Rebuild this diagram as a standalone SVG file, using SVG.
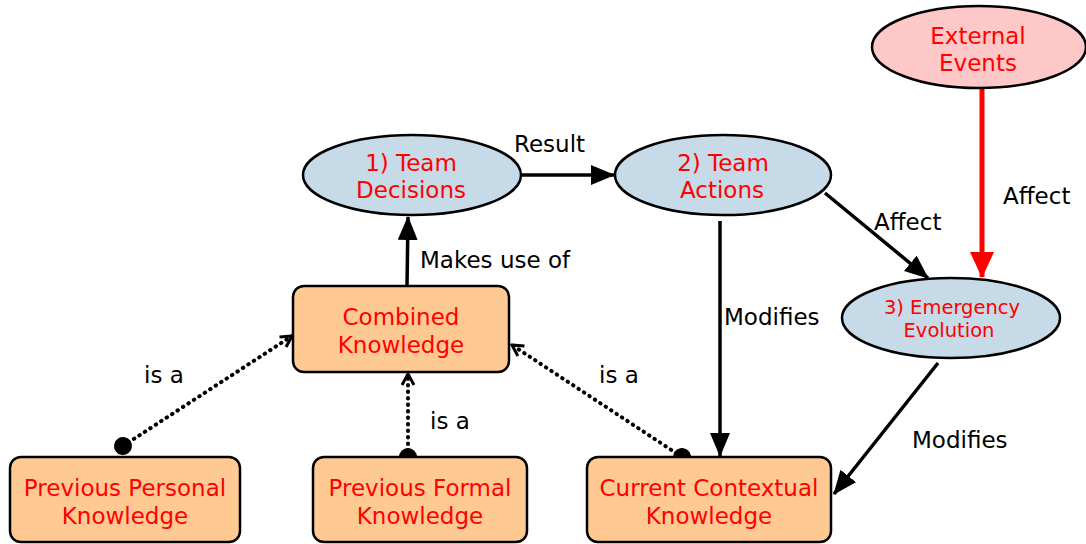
<svg xmlns="http://www.w3.org/2000/svg" width="1086" height="544" viewBox="0 0 1086 544">
<style>
.ell{fill:#c6dae8;stroke:#000;stroke-width:2.5}
.ext{fill:#ffc8c8;stroke:#000;stroke-width:2.5}
.box{fill:#ffc994;stroke:#000;stroke-width:2.5}
.nt{font-family:"DejaVu Sans",Verdana,sans-serif;font-size:23px;fill:#ff0000;text-anchor:middle}
.nts{font-family:"DejaVu Sans",Verdana,sans-serif;font-size:19.5px;fill:#ff0000;text-anchor:middle}
.lbl{font-family:"DejaVu Sans",Verdana,sans-serif;font-size:23px;fill:#000}
.ln{stroke:#000;stroke-width:3.5;fill:none}
.red{stroke:#ff0000;stroke-width:5;fill:none}
.dot{stroke:#000;stroke-width:4;fill:none;stroke-dasharray:0.5 6;stroke-linecap:round}
</style>
<defs>
<marker id="ah" markerWidth="24" markerHeight="20" refX="23" refY="10" orient="auto" markerUnits="userSpaceOnUse">
<path d="M0,0 L24,10 L0,20 Z" fill="#000"/>
</marker>
<marker id="ahr" markerWidth="26" markerHeight="24" refX="25" refY="12" orient="auto" markerUnits="userSpaceOnUse">
<path d="M0,0 L26,12 L0,24 Z" fill="#ff0000"/>
</marker>
<marker id="oh" markerWidth="16" markerHeight="16" refX="14" refY="8" orient="auto" markerUnits="userSpaceOnUse">
<path d="M3,2 L14,8 L3,14" fill="none" stroke="#000" stroke-width="3"/>
</marker>
<marker id="tail" markerWidth="20" markerHeight="20" refX="10" refY="10" orient="auto" markerUnits="userSpaceOnUse">
<circle cx="10" cy="10" r="9" fill="#000"/>
</marker>
</defs>

<g id="connectors">
<line class="ln" x1="522" y1="175" x2="614" y2="175" marker-end="url(#ah)"/>
<line class="ln" x1="407" y1="286" x2="408" y2="217" marker-end="url(#ah)"/>
<line class="ln" x1="720" y1="221" x2="720" y2="456" marker-end="url(#ah)"/>
<line class="ln" x1="825" y1="193" x2="928" y2="278" marker-end="url(#ah)"/>
<line class="red" x1="982" y1="88" x2="982" y2="277" marker-end="url(#ahr)"/>
<line class="ln" x1="938" y1="363" x2="834" y2="494" marker-end="url(#ah)"/>
<line class="dot" x1="123" y1="446" x2="292" y2="336" marker-start="url(#tail)" marker-end="url(#oh)"/>
<line class="dot" x1="408" y1="457" x2="408" y2="374" marker-start="url(#tail)" marker-end="url(#oh)"/>
<line class="dot" x1="682" y1="457" x2="512" y2="345" marker-start="url(#tail)" marker-end="url(#oh)"/>
<text class="lbl" x="514" y="152">Result</text>
<text class="lbl" x="420" y="268">Makes use of</text>
<text class="lbl" x="724" y="325">Modifies</text>
<text class="lbl" x="874" y="230">Affect</text>
<text class="lbl" x="1003" y="204">Affect</text>
<text class="lbl" x="912" y="448">Modifies</text>
<text class="lbl" x="144" y="383">is a</text>
<text class="lbl" x="430" y="429">is a</text>
<text class="lbl" x="599" y="383">is a</text>
</g>

<g id="team-decisions">
<ellipse class="ell" cx="412" cy="175" rx="109" ry="40"/>
<text class="nt" x="411" y="171">1) Team</text>
<text class="nt" x="411" y="198">Decisions</text>
</g>
<g id="team-actions">
<ellipse class="ell" cx="723" cy="175" rx="108" ry="40"/>
<text class="nt" x="723" y="171">2) Team</text>
<text class="nt" x="722" y="198">Actions</text>
</g>
<g id="external-events">
<ellipse class="ext" cx="979" cy="47" rx="107" ry="41"/>
<text class="nt" x="978" y="44">External</text>
<text class="nt" x="978" y="71">Events</text>
</g>
<g id="emergency-evolution">
<ellipse class="ell" cx="951" cy="318" rx="109" ry="40"/>
<text class="nts" x="952" y="314">3) Emergency</text>
<text class="nts" x="949" y="337">Evolution</text>
</g>
<g id="combined-knowledge">
<rect class="box" x="293" y="286" width="216" height="86" rx="11"/>
<text class="nt" x="401" y="325">Combined</text>
<text class="nt" x="401" y="353">Knowledge</text>
</g>
<g id="previous-personal-knowledge">
<rect class="box" x="10" y="457" width="230" height="85" rx="11"/>
<text class="nt" x="125" y="496">Previous Personal</text>
<text class="nt" x="125" y="524">Knowledge</text>
</g>
<g id="previous-formal-knowledge">
<rect class="box" x="313" y="457" width="214" height="85" rx="11"/>
<text class="nt" x="420" y="496">Previous Formal</text>
<text class="nt" x="420" y="524">Knowledge</text>
</g>
<g id="current-contextual-knowledge">
<rect class="box" x="587" y="457" width="244" height="85" rx="11"/>
<text class="nt" x="709" y="496">Current Contextual</text>
<text class="nt" x="709" y="524">Knowledge</text>
</g>
</svg>
